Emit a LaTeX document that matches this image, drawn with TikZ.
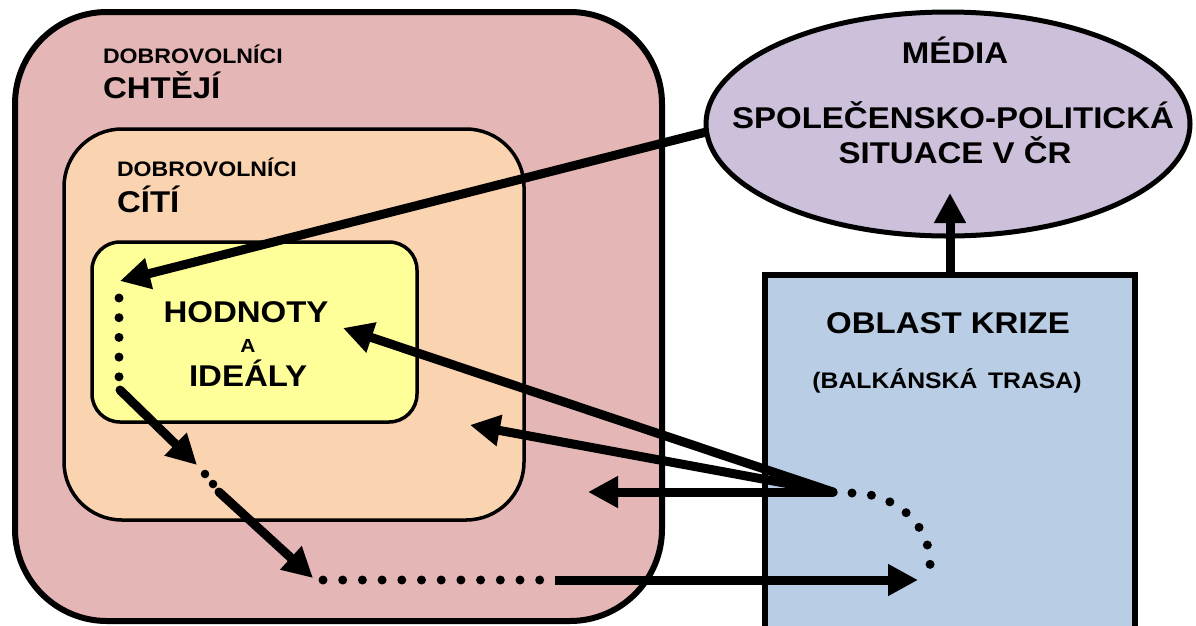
\documentclass[tikz,border=0pt]{standalone}
\usepackage{fontspec}
\setmainfont{Liberation Sans}
\newfontfamily\lab{Liberation Sans}[FakeStretch=1.1]
\usetikzlibrary{arrows.meta,shapes.geometric}
\definecolor{pinkc}{HTML}{E5B6B6}
\definecolor{peachc}{HTML}{FAD3B1}
\definecolor{yellowc}{HTML}{FFFF99}
\definecolor{lilac}{HTML}{CCC0DA}
\definecolor{bluec}{HTML}{B9CDE5}
\begin{document}
\begin{tikzpicture}[x=1pt,y=-1pt,
  box/.style={draw=black, rectangle, inner sep=0pt, outer sep=0pt},
  lbl/.style={inner sep=0pt, outer sep=0pt, font=\lab\bfseries\fontsize{#1}{#1}\selectfont},
  flow/.style={line width=9pt, line cap=round, -{Triangle[length=30pt,width=30pt]}},
  dots/.style={line width=9pt, line cap=round, dash pattern=on 0pt off #1},
]
\useasboundingbox (0,0) rectangle (1196,625);
\begin{scope}
\clip (0,0) rectangle (1196,625);
% boxes
\node[box, fill=pinkc, line width=6pt, rounded corners=92pt,
      minimum width=647pt, minimum height=609pt] (outer) at (338.5,316.5) {};
\node[box, fill=peachc, line width=3.5pt, rounded corners=58pt,
      minimum width=460pt, minimum height=391pt] (feel) at (294,324.5) {};
\node[box, fill=yellowc, line width=3.5pt, rounded corners=28pt,
      minimum width=325pt, minimum height=180pt] (values) at (254.5,332) {};
\node[draw=black, fill=lilac, ellipse, line width=5pt, inner sep=0pt,
      minimum width=484pt, minimum height=224pt] (media) at (948,124) {};
\node[box, fill=bluec, line width=6.5pt,
      minimum width=370pt, minimum height=380pt] (crisis) at (950,465) {};
\end{scope}
% texts
\node[lbl=21, anchor=base west] (w1) at (103,63) {DOBROVOLNÍCI};
\node[lbl=30, anchor=base west] (w2) at (103,98) {CHTĚJÍ};
\node[lbl=21, anchor=base west] (f1) at (117,176) {DOBROVOLNÍCI};
\node[lbl=30, anchor=base west] (f2) at (117,212) {CÍTÍ};
\node[lbl=30, anchor=base] (v1) at (246,322) {HODNOTY};
\node[lbl=19, anchor=base] (v2) at (248,352) {A};
\node[lbl=30, anchor=base] (v3) at (248,386) {IDEÁLY};
\node[lbl=30, anchor=base] (m1) at (955,63) {MÉDIA};
\node[lbl=30, anchor=base] (m2) at (953,128) {SPOLEČENSKO-POLITICKÁ};
\node[lbl=30, anchor=base] (m3) at (955,163) {SITUACE V ČR};
\node[lbl=30, anchor=base] (c1) at (948,333) {OBLAST KRIZE};
\node[lbl=22.5, anchor=base] (c2) at (947,388) {(BALKÁNSKÁ\, TRASA)};
% coordinates
\coordinate (src) at (833,492);
\coordinate (vtop) at (120,281);
\coordinate (vbot) at (120,390);
\coordinate (mid1) at (197,465);
\coordinate (mid2) at (219,492);
\coordinate (low) at (313,578);
\coordinate (runstart) at (555,580);
\coordinate (runend) at (918,580);
\coordinate (toval) at (343,328);
\coordinate (tofeel) at (470,425);
\coordinate (towant) at (588,492);
\coordinate (tomedia) at (950,193);
% connectors
\draw[flow] (media.182) -- (vtop);
\draw[dots=19.7pt] (119,298) -- (119,377);
\draw[flow] (vbot) -- (mid1);
\fill (205,474) circle (4.3pt) (213,484) circle (4.3pt);
\draw[flow] (mid2) -- (low);
\draw[dots=19.7pt] (323,580) -- (540,580);
\draw[flow, line cap=butt] (runstart) -- (runend);
\draw[flow] (src) -- (toval);
\draw[flow] (src) -- (tofeel);
\draw[flow] (src) -- (towant);
\draw[dots=19.6pt] (852,493) .. controls (895,493) and (932,525) .. (930,567);
\draw[flow, line cap=butt] (crisis.north) -- (tomedia);
\end{tikzpicture}
\end{document}
